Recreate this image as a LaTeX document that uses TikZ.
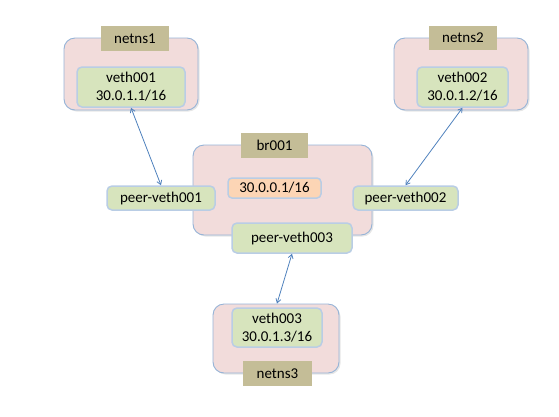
\documentclass[tikz,border=0pt]{standalone}
\usepackage{fontspec}
\setmainfont{Carlito}
\usetikzlibrary{arrows.meta,shadows}
\definecolor{nsfill}{HTML}{F2DCDB}
\definecolor{nsdraw}{HTML}{95B3D7}
\definecolor{ifill}{HTML}{D7E4BD}
\definecolor{idraw}{HTML}{B9CDE5}
\definecolor{lfill}{HTML}{C4BD97}
\definecolor{ipfill}{HTML}{FCD5B5}
\definecolor{arr}{HTML}{4F81BD}
\tikzset{
  nsbox/.style={draw=nsdraw, fill=nsfill, line width=0.9pt, rounded corners=11pt, inner sep=0pt,
    drop shadow={opacity=0.2, shadow xshift=1.5pt, shadow yshift=-1.5pt}},
  ifbox/.style={draw=idraw, fill=ifill, line width=1.5pt, rounded corners=5pt, inner sep=0pt, align=center,
    font=\fontsize{15}{18}\selectfont},
  lblbox/.style={fill=lfill, inner sep=0pt, font=\fontsize{15}{18}\selectfont},
  ipbox/.style={draw=idraw, fill=ipfill, line width=1.5pt, rounded corners=4pt, inner sep=0pt,
    font=\fontsize{15}{18}\selectfont},
  link/.style={draw=arr, line width=0.8pt, {Straight Barb[length=4pt,width=5pt]}-{Straight Barb[length=4pt,width=5pt]}}
}
\begin{document}
\begin{tikzpicture}[x=1pt,y=-1pt]
\useasboundingbox (0,0) rectangle (559,416);
% namespace 1
\node[nsbox, minimum width=134pt, minimum height=72pt] (ns1) at (131,74) {};
\node[lblbox, minimum width=68pt, minimum height=25pt] (l1) at (135,38.5) {netns1};
\node[ifbox, minimum width=108pt, minimum height=40pt] (v1) at (131,87) {veth001\\30.0.1.1/16};
% namespace 2
\node[nsbox, minimum width=134pt, minimum height=72pt] (ns2) at (461,74) {};
\node[lblbox, minimum width=68pt, minimum height=24pt] (l2) at (463,37.5) {netns2};
\node[ifbox, minimum width=91pt, minimum height=40pt] (v2) at (462.5,87) {veth002\\30.0.1.2/16};
% bridge
\node[nsbox, minimum width=179pt, minimum height=90pt] (br) at (282.5,190) {};
\node[lblbox, minimum width=67pt, minimum height=25pt] (lb) at (274.5,145.5) {br001};
\node[ipbox, minimum width=93pt, minimum height=20pt] (ip) at (274.5,188) {30.0.0.1/16};
\node[ifbox, minimum width=108pt, minimum height=24pt] (p1) at (161,198) {peer-veth001};
\node[ifbox, minimum width=105pt, minimum height=24pt] (p2) at (405.5,198) {peer-veth002};
\node[ifbox, minimum width=120pt, minimum height=30pt] (p3) at (292,238) {peer-veth003};
% namespace 3
\node[nsbox, minimum width=126pt, minimum height=69pt] (ns3) at (276,338.5) {};
\node[ifbox, minimum width=90pt, minimum height=39pt] (v3) at (277,327.5) {veth003\\30.0.1.3/16};
\node[lblbox, minimum width=69pt, minimum height=25pt] (l3) at (277.5,373.5) {netns3};
% links
\draw[link] (v1.south) -- (p1.north);
\draw[link] (v2.south) -- (p2.north);
\draw[link] (p3.south) -- ([xshift=1pt]ns3.north);
\end{tikzpicture}
\end{document}
